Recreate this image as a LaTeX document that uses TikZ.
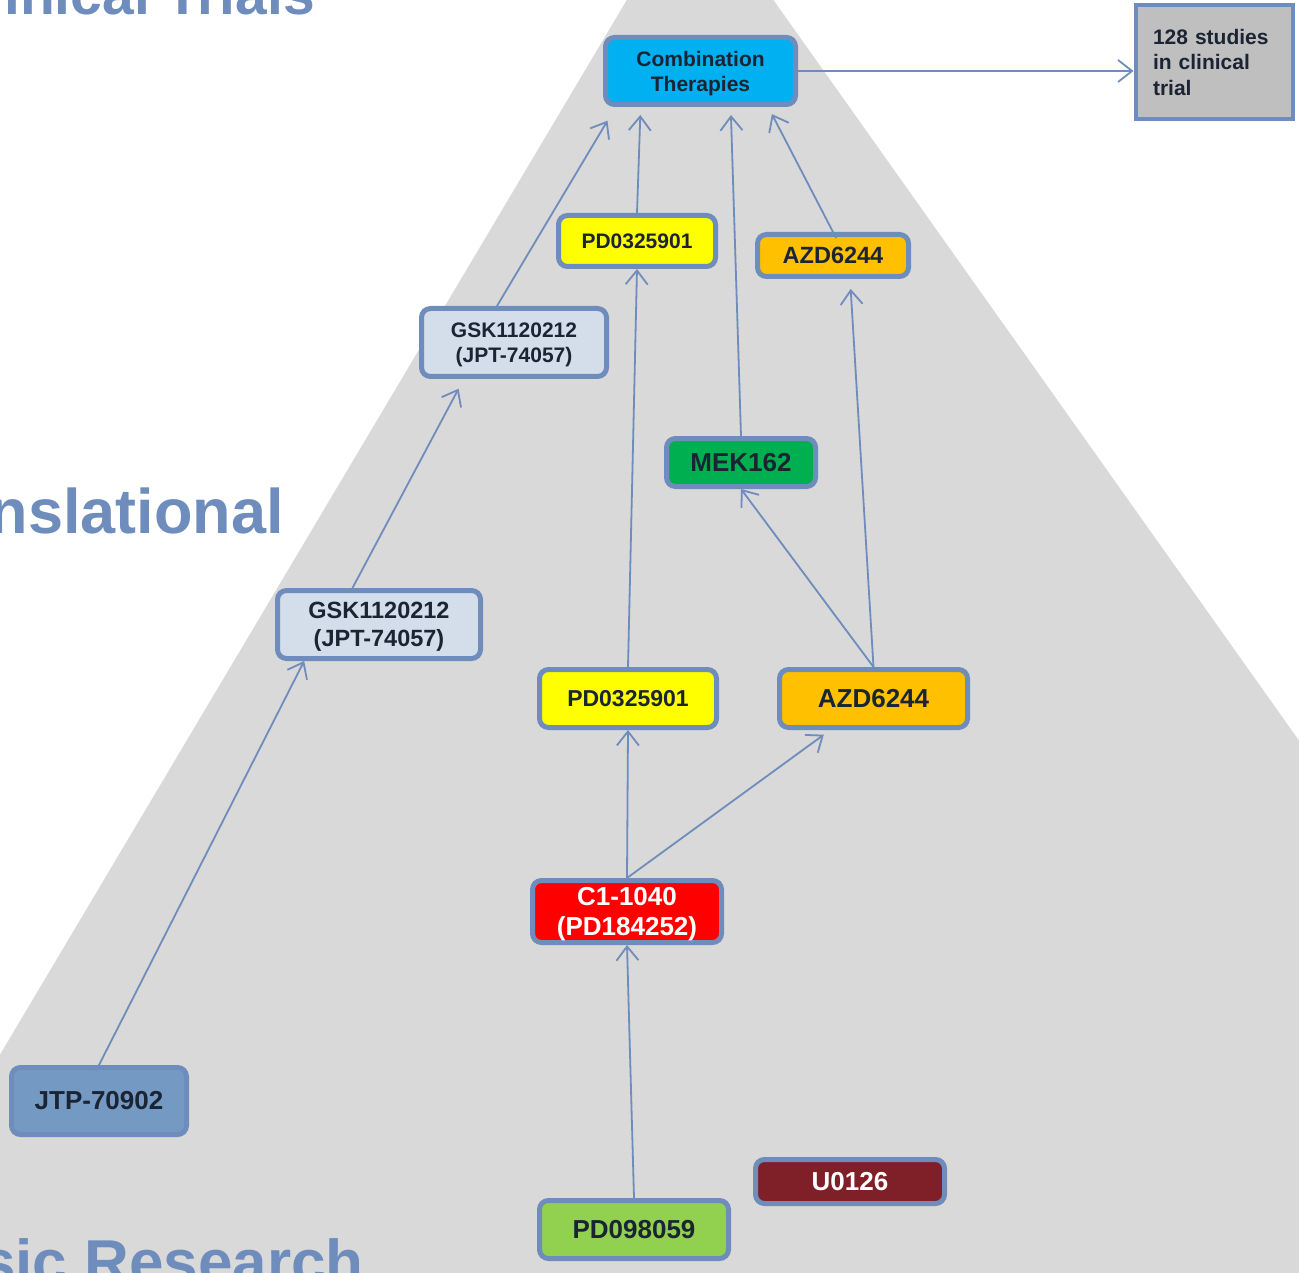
\documentclass[tikz,border=0pt]{standalone}
\usepackage{fontspec}
\setmainfont{Liberation Sans}
\usetikzlibrary{arrows.meta,calc}

\definecolor{steel}{RGB}{110,140,188}
\definecolor{bggrey}{RGB}{217,217,217}
\definecolor{ink}{RGB}{27,36,51}
\definecolor{gskfill}{RGB}{212,222,234}
\definecolor{jtpfill}{RGB}{116,154,196}
\definecolor{combfill}{RGB}{0,176,240}
\definecolor{studyfill}{RGB}{191,191,191}
\definecolor{mekfill}{RGB}{0,176,80}
\definecolor{pdfill}{RGB}{255,255,0}
\definecolor{azdfill}{RGB}{255,192,0}
\definecolor{c1fill}{RGB}{255,0,0}
\definecolor{ufill}{RGB}{127,32,40}
\definecolor{pd98fill}{RGB}{146,208,80}

% bold label text: size and line distance in pt
\newcommand{\fs}[2]{\fontsize{#1}{#2}\selectfont\bfseries}

\tikzset{
  drug/.style={draw=steel, line width=5pt, rounded corners=9pt, align=center,
    text=ink, inner sep=0pt},
  twoline/.style={text depth=0pt},
  stage/.style={text=steel, inner sep=0pt},
  link/.style={draw=steel, line width=1.8pt,
    -{Straight Barb[length=14pt,width=22pt,line width=1.8pt]}},
}

\begin{document}
\begin{tikzpicture}[x=1pt,y=-1pt]
\useasboundingbox (0,0) rectangle (1299,1273);
\clip (0,0) rectangle (1299,1273);

% research pyramid in the background
\fill[bggrey] (628,-2) -- (772,-2) -- (1300,742) -- (1300,1275) -- (-2,1275) -- (-2,1058) -- cycle;

% stage titles
\node[stage, anchor=base east, font=\fs{57}{57}] at (315,15) {Clinical Trials};
\node[stage, anchor=base east, font=\fs{63}{63}] at (284,533) {Translational};
\node[stage, anchor=base east, font=\fs{62}{62}] at (364,1283) {Basic Research};

% compounds
\node[drug, twoline, fill=combfill, minimum width=190pt, minimum height=67pt, font=\fs{21}{25}]
  (comb) at (700.5,71) {Combination\\Therapies};
\node[draw=steel, line width=4pt, fill=studyfill, text=ink, align=left, font=\fs{21}{25.5},
  text width=122pt, inner xsep=17.5pt, minimum height=114pt]
  (studies) at (1214,62) {128 studies\\in clinical\\trial};
\node[drug, fill=pdfill, minimum width=157pt, minimum height=51pt, font=\fs{21}{25}]
  (pdU) at (637,241) {PD0325901};
\node[drug, fill=azdfill, minimum width=151pt, minimum height=42pt, font=\fs{23.5}{28}]
  (azdU) at (833,255.5) {AZD6244};
\node[drug, twoline, fill=gskfill, minimum width=185pt, minimum height=68pt, font=\fs{21}{25}]
  (gskU) at (514,342.5) {GSK1120212\\(JPT-74057)};
\node[drug, fill=mekfill, minimum width=149pt, minimum height=48pt, font=\fs{26}{30}]
  (mek) at (741,462.5) {MEK162};
\node[drug, twoline, fill=gskfill, minimum width=203pt, minimum height=68pt, font=\fs{23.5}{28.5}]
  (gskL) at (379,624.5) {GSK1120212\\(JPT-74057)};
\node[drug, fill=pdfill, minimum width=177pt, minimum height=58pt, font=\fs{23}{27}]
  (pdL) at (628,698.5) {PD0325901};
\node[drug, fill=azdfill, minimum width=188pt, minimum height=58pt, font=\fs{26}{30}]
  (azdL) at (873.5,698.5) {AZD6244};
\node[drug, twoline, fill=c1fill, text=white, minimum width=189pt, minimum height=62pt, font=\fs{26}{30}]
  (c1) at (627,911.5) {C1-1040\\(PD184252)};
\node[drug, fill=jtpfill, minimum width=175pt, minimum height=67pt, font=\fs{26}{30}]
  (jtp) at (99,1101) {JTP-70902};
\node[drug, fill=ufill, text=white, minimum width=189pt, minimum height=44pt, font=\fs{26}{30}]
  (u0126) at (850,1181.5) {U0126};
\node[drug, fill=pd98fill, minimum width=189pt, minimum height=58pt, font=\fs{26}{30}]
  (pd98) at (634,1229.5) {PD098059};

% development paths
\draw[link] (pd98.north) -- (c1.south);
\draw[link] (c1.north) -- (pdL.south);
\draw[link, shorten >=8pt] (c1.north) -- (azdL);
\draw[link] (pdL.north) -- (pdU.south);
\draw[link] (azdL.north) -- (mek.south);
\draw[link, shorten >=10pt] (azdL.north) -- (azdU.-54);
\draw[link, shorten >=8pt] (mek.north) -- (comb.-50);
\draw[link, shorten >=8pt] (pdU.north) -- (comb.-149);
\draw[link, shorten >=8pt, shorten <=-7pt] (azdU.north) -- (comb.-28);
\draw[link, shorten >=16pt] (gskU.115) -- (comb.-157);
\draw[link, shorten >=11pt] (gskL.126) -- (gskU.-144);
\draw[link, shorten <=-7pt] (jtp.north) -- (gskL.-154);
\draw[link] (comb.east) -- (comb.east -| studies.west);
\end{tikzpicture}
\end{document}
